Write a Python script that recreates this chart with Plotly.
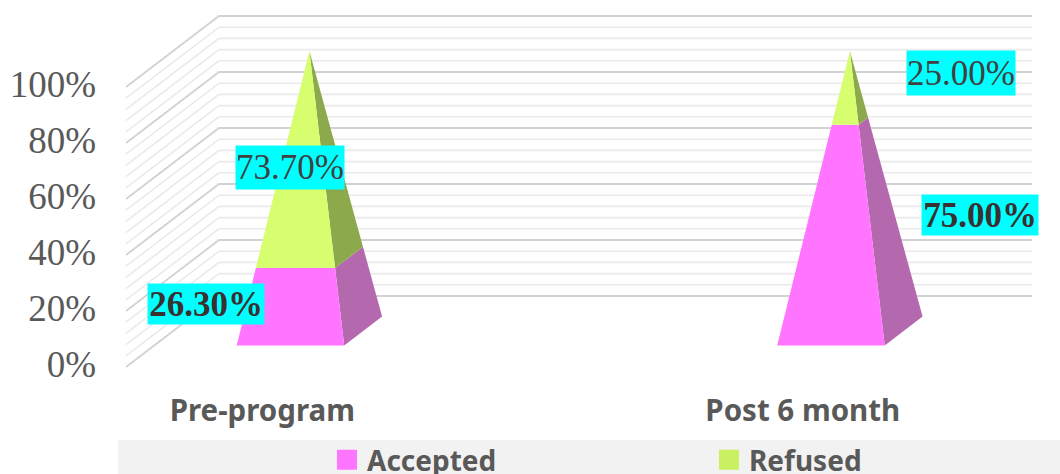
import plotly.graph_objs as go

# Values
categories = ['Pre-program', 'Post 6 month']
accepted = [26.30, 75.00]
refused = [73.70, 25.00]
y_ticks = [0, 20, 40, 60, 80, 100]
y_labels = ['0%', '20%', '40%', '60%', '80%', '100%']
minor_ticks = [v for v in range(0, 101, 4)]

WIDTH, HEIGHT = 1060, 474
M_LEFT, M_BOTTOM = 100, 89
PLOT_W, PLOT_H = WIDTH - M_LEFT, HEIGHT - M_BOTTOM

# Pixel scales of the 2D axes
X0_PX = 262.3      # front centre of the first category
CAT_PX = 540.5     # distance between categories
Y0_PX = 367.0      # 0% on the front edge of the side wall
PCT_PX = 2.8       # pixels per percent

# Oblique projection, in axis units
DEPTH_X = 93 / CAT_PX
DEPTH_Y = 71 / PCT_PX
WALL_LEFT = (126 - X0_PX) / CAT_PX
WALL_RIGHT = (1032 - X0_PX) / CAT_PX
HALF_WIDTH = 53.75 / CAT_PX
D_FRONT, D_BACK = 0.303, 0.71


def px_x(px):
    return (px - X0_PX) / CAT_PX


def px_y(px):
    return (Y0_PX - px) / PCT_PX


def project(x, depth, value):
    return x + depth * DEPTH_X, value + depth * DEPTH_Y


def wall_lines(ticks):
    xs, ys = [], []
    for v in ticks:
        x1, y1 = project(WALL_LEFT, 0, v)
        x2, y2 = project(WALL_LEFT, 1, v)
        xs += [x1, x2, WALL_RIGHT, None]
        ys += [y1, y2, y2, None]
    return xs, ys


def corner(cat, side, depth, value):
    # point on the edge that runs from a base corner up to the apex
    t = value / 100
    d = depth + ((D_FRONT + D_BACK) / 2 - depth) * t
    off = side * HALF_WIDTH * (1 - t)
    return project(cat + off, d, value)


def face(cat, p1, p2, low, high):
    pts = [corner(cat, *p1, low), corner(cat, *p2, low),
           corner(cat, *p2, high), corner(cat, *p1, high)]
    pts.append(pts[0])
    return [p[0] for p in pts], [p[1] for p in pts]


fig = go.Figure()

# Walls
minor = [v for v in minor_ticks if v not in y_ticks]
for ticks, color, w in [(minor, '#EAEAEA', 1.6), (y_ticks, '#D2D2D2', 1.8)]:
    xs, ys = wall_lines(ticks)
    fig.add_trace(go.Scatter(x=xs, y=ys, mode='lines', line=dict(color=color, width=w),
                             showlegend=False, hoverinfo='skip'))

# Pyramids
FRONT = ((-1, D_FRONT), (1, D_FRONT))
SIDE = ((1, D_FRONT), (1, D_BACK))
segments = [(accepted, '#FF75FF', '#B469AE'), (refused, '#D6FE6F', '#8CA94B')]
for i in range(len(categories)):
    low = 0
    for values, front_color, side_color in segments:
        high = low + values[i]
        for (p1, p2), color in [(SIDE, side_color), (FRONT, front_color)]:
            xs, ys = face(i, p1, p2, low, high)
            fig.add_trace(go.Scatter(x=xs, y=ys, mode='lines', fill='toself', fillcolor=color,
                                     line=dict(color=color, width=0),
                                     showlegend=False, hoverinfo='skip'))
        low = high

# Legend entries
for name, color in [('Accepted', '#FF75FF'), ('Refused', '#C8F060')]:
    fig.add_trace(go.Scatter(x=[None], y=[None], mode='markers', name=name,
                             marker=dict(symbol='square', size=16, color=color,
                                         line=dict(color=color, width=4))))

# Data labels
labels = [
    (accepted[0], 206, 304, 116, 40, True),
    (refused[0], 290, 167, 108, 43, False),
    (accepted[1], 980, 215, 116, 40, True),
    (refused[1], 961, 73, 108, 44, False),
]
for value, cx, cy, w, h, bold in labels:
    text = '%.2f%%' % value
    fig.add_annotation(x=px_x(cx), y=px_y(cy), text='<b>%s</b>' % text if bold else text,
                       showarrow=False, xref='x', yref='y', width=w, height=h,
                       bgcolor='#00FFFF', borderpad=0, align='center', valign='middle',
                       font=dict(family='Liberation Serif', size=35,
                                 color='#3A3030' if bold else '#404040'))

layout = dict(
    width=WIDTH,
    height=HEIGHT,
    margin=dict(l=M_LEFT, r=0, t=0, b=M_BOTTOM, autoexpand=False),
    paper_bgcolor='white',
    plot_bgcolor='white',
    showlegend=True,
    legend=dict(orientation='h', x=(327 - M_LEFT) / PLOT_W, xanchor='left', y=1 - 435 / HEIGHT, yanchor='top',
                yref='container', entrywidth=337, entrywidthmode='pixels', bgcolor='rgba(0,0,0,0)',
                font=dict(family='Noto Sans', size=28, color='#595959', weight='bold')),
    xaxis=dict(range=[px_x(M_LEFT), px_x(WIDTH)], tickvals=[0, 1], ticktext=categories,
               showgrid=False, zeroline=False, showline=False, ticks='', ticklabelstandoff=5,
               tickfont=dict(family='Noto Sans', size=29.5, color='#595959', weight='bold')),
    yaxis=dict(range=[px_y(PLOT_H), px_y(0)], tickvals=y_ticks, ticktext=y_labels,
               showgrid=False, zeroline=False, showline=False, ticks='',
               ticklabelstandoff=3, ticklabelshift=-3,
               tickfont=dict(family='Liberation Serif', size=37, color='#595959')),
    shapes=[dict(type='rect', xref='paper', yref='paper', layer='below',
                 x0=(118 - M_LEFT) / PLOT_W, x1=1,
                 y0=(PLOT_H - 440) / PLOT_H, y1=(PLOT_H - HEIGHT) / PLOT_H,
                 fillcolor='#F2F2F2', line=dict(width=0))],
)
fig.update_layout(**layout)

# the page has an 8px body margin that would push the chart out of the window
fig.write_html("out.html", config=dict(displayModeBar=False),
               post_script="document.body.style.margin='0';")
